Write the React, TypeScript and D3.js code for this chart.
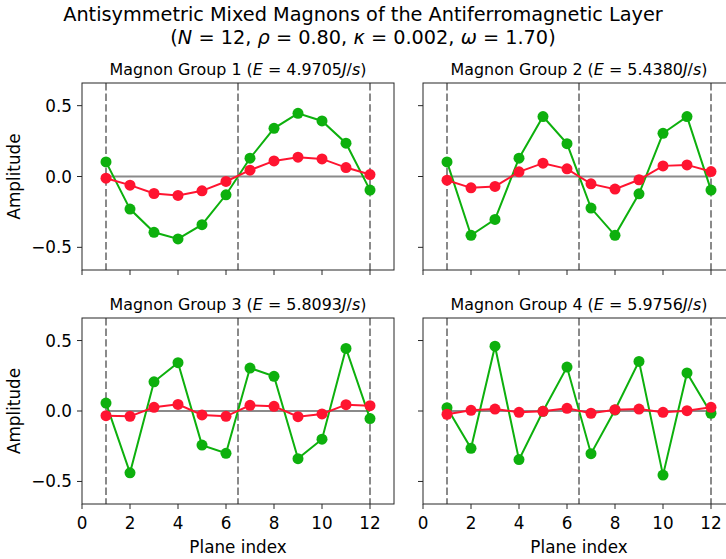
import React from "react";
import * as d3 from "d3";

// Plane indices 1..12
const planes = [1, 2, 3, 4, 5, 6, 7, 8, 9, 10, 11, 12];

// Mode energies for each group
const energies = ["4.9705", "5.4380", "5.8093", "5.9756"];

// Amplitudes on the first sublattice (green) per group
const greenG1 = [0.103, -0.23, -0.394, -0.441, -0.34, -0.129, 0.129, 0.34, 0.446, 0.392, 0.235, -0.096];
const greenG2 = [0.103, -0.415, -0.303, 0.129, 0.423, 0.232, -0.223, -0.415, -0.122, 0.305, 0.423, -0.096];
const greenG3 = [0.056, -0.439, 0.207, 0.343, -0.242, -0.3, 0.305, 0.246, -0.338, -0.2, 0.444, -0.054];
const greenG4 = [0.023, -0.265, 0.46, -0.345, -0.002, 0.312, -0.303, 0.007, 0.352, -0.455, 0.27, -0.016];

// Amplitudes on the second sublattice (red) per group
const redG1 = [-0.012, -0.061, -0.12, -0.134, -0.101, -0.035, 0.045, 0.11, 0.136, 0.124, 0.063, 0.014];
const redG2 = [-0.026, -0.08, -0.07, 0.033, 0.094, 0.054, -0.052, -0.089, -0.023, 0.075, 0.082, 0.035];
const redG3 = [-0.033, -0.038, 0.026, 0.047, -0.028, -0.038, 0.04, 0.033, -0.04, -0.021, 0.045, 0.038];
const redG4 = [-0.023, 0.005, 0.014, -0.009, -0.002, 0.019, -0.016, 0.009, 0.014, -0.009, 0.002, 0.026];

// Reference lines: boundaries and centre of the stack
const boundaries = [1, 6.5, 12];

const xTicks = [0, 2, 4, 6, 8, 10, 12];
const yTicks = [-0.5, 0.0, 0.5];
const yTickLabels = ["\u22120.5", "0.0", "0.5"];

const greens = [greenG1, greenG2, greenG3, greenG4];
const reds = [redG1, redG2, redG3, redG4];

const W = 726;
const H = 559;
const FONT = "DejaVu Sans, sans-serif";
const GREEN = "#0db00d";
const RED = "#ff1430";
const GRAY = "#8a8a8a";
const SPINE = "#262626";
const TICK_FS = 16.8;
const TITLE_FS = 15.9;
const SUPER_FS = 19.3;

const cols = [
  { x0: 82, x1: 394 },
  { x0: 423, x1: 735 },
];
const rows = [
  { y0: 83, y1: 270 },
  { y0: 318, y1: 504 },
];

type PanelProps = { idx: number };

function Panel({ idx }: PanelProps) {
  const c = cols[idx % 2];
  const r = rows[Math.floor(idx / 2)];
  const x = d3.scaleLinear().domain([0, 13]).range([c.x0, c.x1]);
  const y = d3.scaleLinear().domain([-0.66, 0.66]).range([r.y1, r.y0]);
  const line = d3
    .line<number>()
    .x((_, i) => x(planes[i]))
    .y((d) => y(d));
  const showY = idx % 2 === 0;
  const showX = idx >= 2;
  const g = greens[idx];
  const rd = reds[idx];
  const clipId = `clip${idx}`;
  return (
    <g>
      <defs>
        <clipPath id={clipId}>
          <rect x={c.x0} y={r.y0} width={c.x1 - c.x0} height={r.y1 - r.y0} />
        </clipPath>
      </defs>
      <text
        x={(c.x0 + c.x1) / 2}
        y={r.y0 - 8.5}
        textAnchor="middle"
        fontSize={TITLE_FS}
        fontFamily={FONT}
        fill="#000"
      >
        {`Magnon Group ${idx + 1} (`}
        <tspan fontStyle="italic">E</tspan>
        {` = ${energies[idx]}`}
        <tspan fontStyle="italic">J</tspan>
        {"/"}
        <tspan fontStyle="italic">s</tspan>
        {")"}
      </text>
      <g clipPath={`url(#${clipId})`}>
        {boundaries.map((b) => (
          <line
            key={b}
            x1={x(b)}
            x2={x(b)}
            y1={r.y0}
            y2={r.y1}
            stroke={GRAY}
            strokeWidth={2}
            strokeDasharray="7.4,3.2"
          />
        ))}
        <line
          x1={x(planes[0])}
          x2={x(planes[planes.length - 1])}
          y1={y(0)}
          y2={y(0)}
          stroke={GRAY}
          strokeWidth={2}
        />
        <path d={line(g) || ""} fill="none" stroke={GREEN} strokeWidth={2} />
        {g.map((v, i) => (
          <circle key={`g${i}`} cx={x(planes[i])} cy={y(v)} r={5.5} fill={GREEN} />
        ))}
        <path d={line(rd) || ""} fill="none" stroke={RED} strokeWidth={2} />
        {rd.map((v, i) => (
          <circle key={`r${i}`} cx={x(planes[i])} cy={y(v)} r={5.5} fill={RED} />
        ))}
      </g>
      <rect
        x={c.x0}
        y={r.y0}
        width={c.x1 - c.x0}
        height={r.y1 - r.y0}
        fill="none"
        stroke={SPINE}
        strokeWidth={1}
      />
      {xTicks.map((t) => (
        <g key={`xt${t}`}>
          <line x1={x(t)} x2={x(t)} y1={r.y1} y2={r.y1 + 5} stroke={SPINE} strokeWidth={1} />
          {showX && (
            <text
              x={x(t)}
              y={r.y1 + 25}
              textAnchor="middle"
              fontSize={TICK_FS}
              fontFamily={FONT}
              fill="#000"
            >
              {t}
            </text>
          )}
        </g>
      ))}
      {yTicks.map((t, i) => (
        <g key={`yt${t}`}>
          <line x1={c.x0 - 5} x2={c.x0} y1={y(t)} y2={y(t)} stroke={SPINE} strokeWidth={1} />
          {showY && (
            <text
              x={c.x0 - 10}
              y={y(t) + 6}
              textAnchor="end"
              fontSize={TICK_FS}
              fontFamily={FONT}
              fill="#000"
            >
              {yTickLabels[i]}
            </text>
          )}
        </g>
      ))}
      {showY && (
        <text
          transform={`translate(${20},${(r.y0 + r.y1) / 2}) rotate(-90)`}
          textAnchor="middle"
          fontSize={TICK_FS}
          fontFamily={FONT}
          fill="#000"
        >
          Amplitude
        </text>
      )}
      {showX && (
        <text
          x={(c.x0 + c.x1) / 2}
          y={553}
          textAnchor="middle"
          fontSize={TICK_FS}
          fontFamily={FONT}
          fill="#000"
        >
          Plane index
        </text>
      )}
    </g>
  );
}

export default function App() {
  return (
    <svg
      width={W}
      height={H}
      viewBox={`0 0 ${W} ${H}`}
      style={{ position: "absolute", left: 0, top: 0, display: "block", background: "#fff" }}
    >
      <rect x={0} y={0} width={W} height={H} fill="#fff" />
      <text x={363} y={21} textAnchor="middle" fontSize={SUPER_FS} fontFamily={FONT} fill="#000">
        Antisymmetric Mixed Magnons of the Antiferromagnetic Layer
      </text>
      <text x={363} y={44} textAnchor="middle" fontSize={SUPER_FS} fontFamily={FONT} fill="#000">
        {"("}
        <tspan fontStyle="italic">N</tspan>
        {" = 12, "}
        <tspan fontStyle="italic">ρ</tspan>
        {" = 0.80, "}
        <tspan fontStyle="italic">κ</tspan>
        {" = 0.002, "}
        <tspan fontStyle="italic">ω</tspan>
        {" = 1.70)"}
      </text>
      {[0, 1, 2, 3].map((i) => (
        <Panel key={i} idx={i} />
      ))}
    </svg>
  );
}
